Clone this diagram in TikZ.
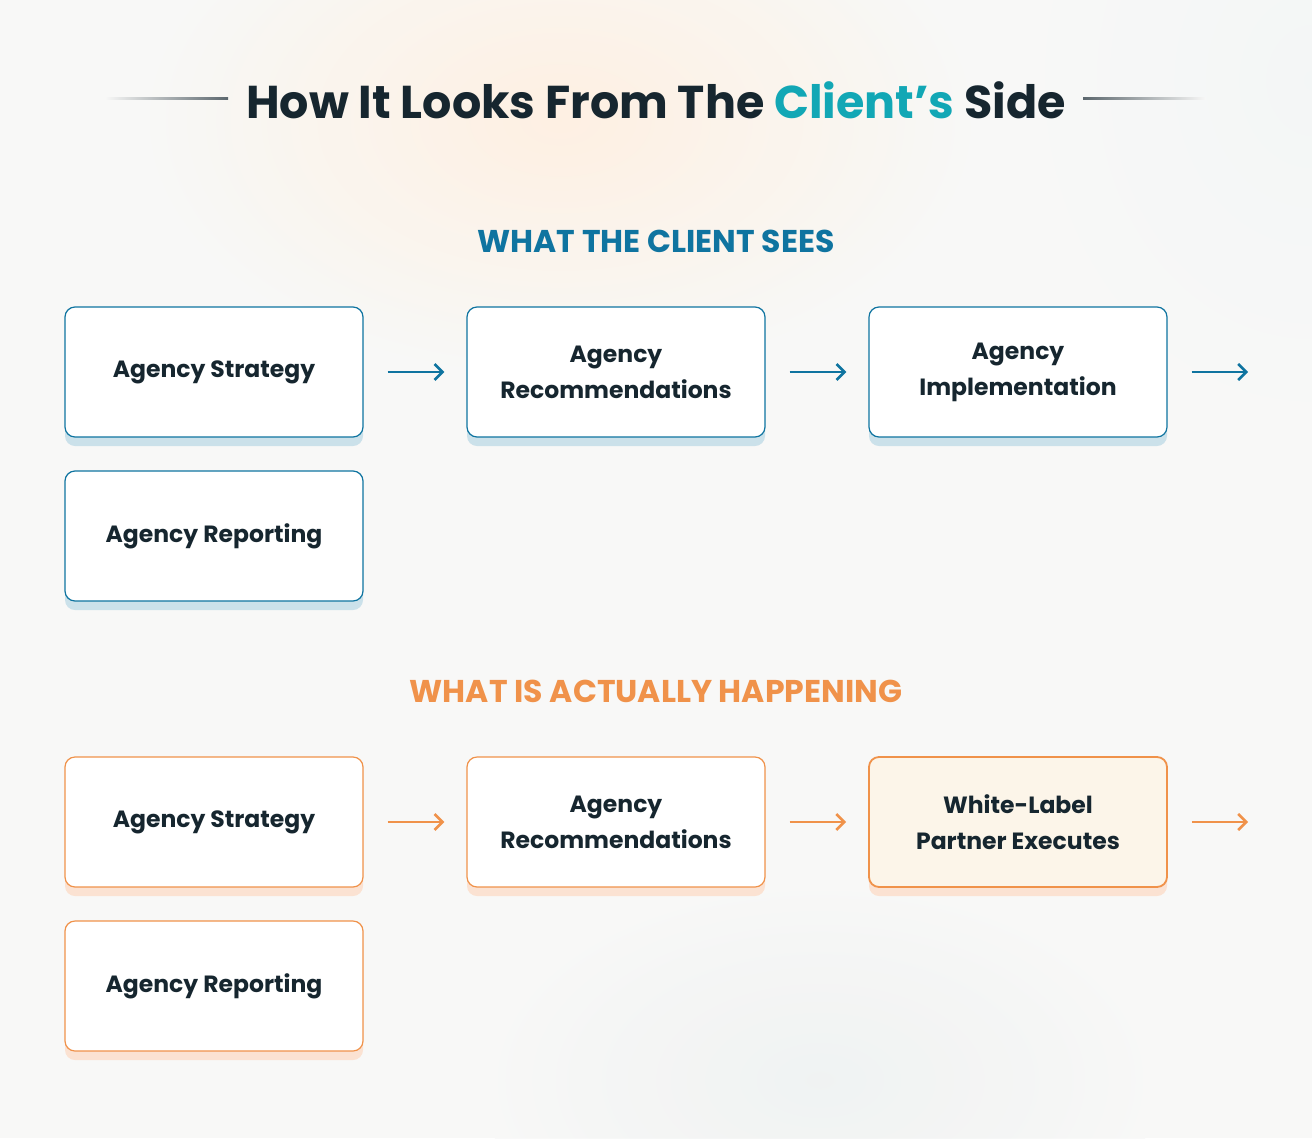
\documentclass[tikz,border=0pt]{standalone}
\usepackage{fontspec}
\setmainfont{Poppins}
\usetikzlibrary{shadings,arrows.meta}
\definecolor{ink}{HTML}{16262F}
\definecolor{blu}{HTML}{0F74A0}
\definecolor{teal}{HTML}{12A7B5}
\definecolor{bshadow}{HTML}{CBE1EA}
\definecolor{org}{HTML}{F0924A}
\definecolor{oshadow}{HTML}{FBE2D2}
\definecolor{ofill}{HTML}{FCF5E9}
\definecolor{bg}{HTML}{F8F8F7}
\tikzset{
 bx/.style={draw=#1,line width=1.2pt,rounded corners=10pt,fill=white,minimum width=298pt,minimum height=130pt,align=center,text=ink,font=\fontsize{23.5}{36}\selectfont\bfseries,inner sep=0pt},
 arr/.style={draw=#1,line width=2.6pt,-{Straight Barb[length=8pt,width=16pt]}},
 hd/.style={font=\fontsize{31.5}{36}\selectfont\bfseries}
}
\begin{document}
\begin{tikzpicture}[x=1pt,y=-1pt]
\useasboundingbox (0,0) rectangle (1312,1138);
\fill[bg] (0,0) rectangle (1312,1138);
\shade[inner color=orange!12,outer color=bg,opacity=0.9] (560,120) ellipse (420 and 260);
\shade[inner color=cyan!14!gray!8,outer color=bg,opacity=0.9] (1312,80) ellipse (300 and 360);
\shade[inner color=cyan!10!gray!12,outer color=bg,opacity=0.8] (820,1080) ellipse (340 and 200);
\node[font=\fontsize{46}{52}\selectfont\bfseries,text=ink] (title) at (656,100) {How It Looks From The \textcolor{teal}{Client’s} Side};
\shade[left color=bg,right color=ink!70] (105,97) rectangle (228,99.5);
\shade[left color=ink!70,right color=bg] (1083,97) rectangle (1206,99.5);
\node[hd,text=blu] (h1) at (656,241) {WHAT THE CLIENT SEES};
\node[hd,text=org] (h2) at (656,691) {WHAT IS ACTUALLY HAPPENING};
\foreach \x/\y in {65/307,467/307,869/307,65/471}{\fill[bshadow,rounded corners=10pt] (\x,\y+12) rectangle (\x+298,\y+139);}
\node[bx=blu] (a1) at (214,372) {Agency Strategy};
\node[bx=blu] (a2) at (616,372) {Agency\\Recommendations};
\node[bx=blu] (a3) at (1018,372) {Agency\\Implementation};
\node[bx=blu] (a4) at (214,536) {Agency Reporting};
\coordinate (ae) at (1248,372);
\draw[arr=blu] ([xshift=24pt]a1.east) -- ([xshift=-22pt]a2.west);
\draw[arr=blu] ([xshift=24pt]a2.east) -- ([xshift=-22pt]a3.west);
\draw[arr=blu] ([xshift=24pt]a3.east) -- (ae);
\foreach \x/\y in {65/757,467/757,869/757,65/921}{\fill[oshadow,rounded corners=10pt] (\x,\y+12) rectangle (\x+298,\y+139);}
\node[bx=org] (b1) at (214,822) {Agency Strategy};
\node[bx=org] (b2) at (616,822) {Agency\\Recommendations};
\node[bx=org,fill=ofill,line width=1.8pt] (b3) at (1018,822) {White-Label\\Partner Executes};
\node[bx=org] (b4) at (214,986) {Agency Reporting};
\coordinate (be) at (1248,822);
\draw[arr=org] ([xshift=24pt]b1.east) -- ([xshift=-22pt]b2.west);
\draw[arr=org] ([xshift=24pt]b2.east) -- ([xshift=-22pt]b3.west);
\draw[arr=org] ([xshift=24pt]b3.east) -- (be);
\end{tikzpicture}
\end{document}
